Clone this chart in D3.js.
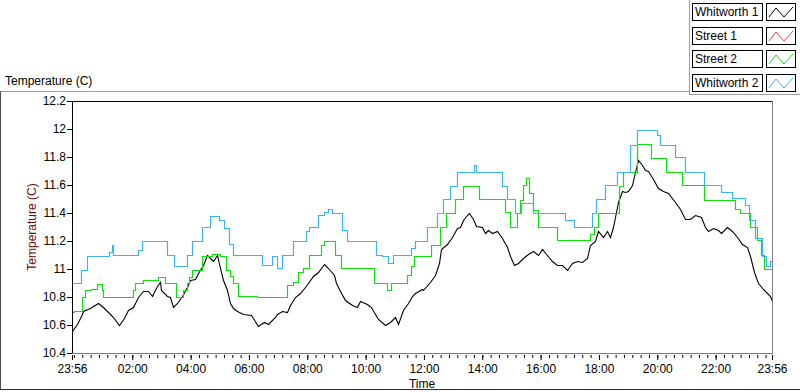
<!DOCTYPE html>
<html>
<head>
<meta charset="utf-8">
<script src="https://cdn.jsdelivr.net/npm/d3@7"></script>
<style>
  body { margin: 0; background: #fff; }
  svg { display: block; font-family: "Liberation Sans", Arial, sans-serif; font-size: 12px; }
</style>
</head>
<body>
<div id="chart"></div>
<script>
// readings per series: [time, °C]; the first "23:56" is the previous day
const whitworth1 = [
  ["23:56",10.56],["00:06",10.61],["00:16",10.68],["00:19",10.70],["00:33",10.72],["00:50",10.755],
  ["01:00",10.73],["01:14",10.68],["01:21",10.66],["01:33",10.60],["01:42",10.65],["01:52",10.71],
  ["02:02",10.73],["02:12",10.80],["02:23",10.84],["02:33",10.845],["02:40",10.81],["02:51",10.88],
  ["02:56",10.91],["03:00",10.85],["03:11",10.81],["03:18",10.80],["03:24",10.73],["03:31",10.755],
  ["03:42",10.81],["03:52",10.87],["03:59",10.92],["04:09",10.93],["04:16",10.97],["04:26",11.03],
  ["04:34",11.10],["04:40",11.08],["04:47",11.06],["04:54",11.10],["05:00",11.005],["05:07",10.92],
  ["05:14",10.85],["05:21",10.755],["05:28",10.72],["05:35",10.70],["05:48",10.68],["06:04",10.67],
  ["06:19",10.59],["06:30",10.62],["06:40",10.61],["06:54",10.66],["06:57",10.68],["07:07",10.70],
  ["07:18",10.69],["07:25",10.74],["07:35",10.80],["07:45",10.83],["07:55",10.87],["08:02",10.90],
  ["08:12",10.95],["08:23",10.98],["08:35",11.036],["08:43",11.005],["08:54",10.96],["09:00",10.90],
  ["09:07",10.84],["09:18",10.78],["09:31",10.74],["09:42",10.73],["09:48",10.77],["10:02",10.75],
  ["10:12",10.73],["10:19",10.68],["10:26",10.64],["10:40",10.60],["10:50",10.62],["11:00",10.66],
  ["11:07",10.61],["11:17",10.71],["11:28",10.755],["11:35",10.81],["11:42",10.83],["11:55",10.855],
  ["11:59",10.85],["12:12",10.91],["12:23",10.96],["12:30",11.04],["12:36",11.14],["12:47",11.18],
  ["12:57",11.23],["13:07",11.29],["13:14",11.30],["13:21",11.35],["13:28",11.386],["13:33",11.40],
  ["13:40",11.36],["13:48",11.31],["13:59",11.30],["14:06",11.255],["14:12",11.28],["14:19",11.255],
  ["14:30",11.27],["14:40",11.22],["14:50",11.16],["14:57",11.09],["15:05",11.03],["15:14",11.04],
  ["15:24",11.08],["15:35",11.11],["15:45",11.13],["15:55",11.10],["16:02",11.14],["16:12",11.11],
  ["16:23",11.06],["16:33",11.03],["16:43",11.03],["16:54",10.99],["17:04",11.04],["17:14",11.06],
  ["17:25",11.05],["17:35",11.08],["17:42",11.17],["17:52",11.20],["17:59",11.27],["18:09",11.23],
  ["18:16",11.27],["18:23",11.23],["18:28",11.30],["18:33",11.37],["18:40",11.48],["18:47",11.56],
  ["18:54",11.55],["19:00",11.56],["19:07",11.60],["19:14",11.695],["19:21",11.78],["19:28",11.74],
  ["19:35",11.71],["19:41",11.70],["19:52",11.64],["20:02",11.58],["20:12",11.56],["20:23",11.54],
  ["20:36",11.48],["20:47",11.43],["20:57",11.36],["21:07",11.36],["21:18",11.386],["21:30",11.37],
  ["21:38",11.30],["21:45",11.27],["21:55",11.29],["22:05",11.28],["22:12",11.255],["22:23",11.30],
  ["22:33",11.27],["22:43",11.23],["22:54",11.18],["23:04",11.16],["23:11",11.09],["23:18",10.98],
  ["23:28",10.90],["23:38",10.86],["23:45",10.83],["23:52",10.81],["23:56",10.77]
];
const street1 = []; // nothing of this series is visible in the plot
const street2 = [
  ["23:56",10.69],["00:00",10.70],["00:16",10.80],["00:23",10.85],["00:36",10.86],["00:47",10.89],
  ["00:57",10.85],["01:00",10.80],["02:02",10.85],["02:06",10.90],["02:23",10.92],["02:53",10.94],
  ["03:07",10.90],["03:30",10.80],["03:45",10.85],["03:52",10.90],["03:57",10.945],["04:02",10.99],
  ["04:23",11.09],["04:43",11.11],["05:00",11.09],["05:13",10.99],["05:21",10.95],["05:28",10.90],
  ["05:38",10.81],["06:16",10.80],["07:18",10.886],["07:31",10.91],["07:41",10.98],["07:52",11.005],
  ["08:03",11.10],["08:28",11.17],["08:35",11.20],["08:56",11.10],["09:09",11.005],["10:18",10.90],
  ["10:45",10.85],["10:52",10.90],["11:26",10.96],["11:33",11.02],["11:40",11.09],["12:14",11.17],
  ["12:32",11.30],["12:45",11.40],["13:04",11.50],["13:20",11.59],["13:54",11.50],["14:47",11.41],
  ["14:56",11.30],["15:12",11.40],["15:18",11.49],["15:24",11.60],["15:30",11.65],["15:37",11.54],
  ["15:45",11.42],["15:55",11.30],["16:34",11.21],["17:42",11.25],["17:50",11.30],["17:59",11.40],
  ["18:41",11.59],["18:50",11.695],["19:18",11.89],["19:48",11.79],["20:17",11.695],["20:50",11.60],
  ["21:37",11.49],["22:40",11.43],["22:50",11.40],["23:11",11.30],["23:25",11.21],["23:33",11.10],
  ["23:40",11.00],["23:56",11.00]
];
const whitworth2 = [
  ["23:56",10.90],["00:14",10.99],["00:26",11.095],["01:13",11.12],["01:18",11.17],["01:21",11.10],
  ["02:12",11.135],["02:21",11.20],["03:11",11.10],["03:26",11.02],["03:52",11.10],["04:02",11.20],
  ["04:23",11.30],["04:40",11.38],["04:59",11.35],["05:09",11.29],["05:18",11.18],["05:28",11.10],
  ["06:26",11.03],["06:47",11.09],["06:57",11.01],["07:07",11.10],["07:31",11.20],["07:57",11.27],
  ["08:03",11.30],["08:23",11.386],["08:35",11.41],["08:43",11.43],["08:51",11.40],["09:11",11.28],
  ["09:21",11.20],["10:21",11.10],["10:33",11.09],["10:47",11.04],["10:57",11.10],["11:33",11.15],
  ["11:42",11.20],["12:06",11.30],["12:26",11.40],["12:40",11.50],["12:54",11.59],["13:09",11.695],
  ["13:43",11.74],["13:48",11.695],["14:40",11.59],["14:50",11.50],["15:07",11.40],["15:19",11.47],
  ["15:44",11.40],["16:50",11.35],["17:09",11.30],["17:45",11.40],["17:54",11.50],["18:13",11.60],
  ["18:37",11.695],["19:04",11.886],["19:18",11.99],["19:59",11.96],["20:06",11.886],["20:36",11.80],
  ["20:57",11.695],["21:37",11.60],["22:12",11.55],["22:33",11.505],["23:00",11.457],["23:09",11.35],
  ["23:21",11.22],["23:35",11.09],["23:43",11.02],["23:52",11.06],["23:56",11.06]
];

const seriesNames = ["Whitworth 1", "Street 1", "Street 2", "Whitworth 2"];
const seriesData = [whitworth1, street1, street2, whitworth2];
const seriesColors = ["#000000", "#ff3c3c", "#10e010", "#3cb4f0"];
const seriesStep = [false, false, true, true];

const xTickLabels = ["23:56","02:00","04:00","06:00","08:00","10:00","12:00","14:00","16:00","18:00","20:00","22:00","23:56"];
const yTicks = [10.4, 10.6, 10.8, 11, 11.2, 11.4, 11.6, 11.8, 12, 12.2];

const width = 800, height = 392;
const plot = {left: 72, right: 772, top: 101, bottom: 353};

// "HH:MM" -> Date; a leading 23:56 belongs to the day before
function parseTime(s, i) {
  const [h, m] = s.split(":").map(Number);
  return new Date(2000, 0, (i === 0 && h === 23) ? 1 : 2, h, m);
}

const svg = d3.select("#chart").append("svg")
  .attr("width", width)
  .attr("height", height);

const x = d3.scaleTime()
  .domain([new Date(2000, 0, 1, 23, 56), new Date(2000, 0, 2, 23, 56)])
  .range([plot.left, plot.right]);

const y = d3.scaleLinear()
  .domain([10.4, 12.2])
  .range([plot.bottom, plot.top]);

// outer frame of the graph
svg.append("line").attr("x1", 0).attr("x2", 689).attr("y1", 91.5).attr("y2", 91.5).attr("stroke", "#a0a0a0");
svg.append("line").attr("x1", 0.5).attr("x2", 0.5).attr("y1", 91).attr("y2", 390).attr("stroke", "#505050");
svg.append("line").attr("x1", 0).attr("x2", 800).attr("y1", 389.5).attr("y2", 389.5).attr("stroke", "#303030");

svg.append("text")
  .attr("x", 5).attr("y", 85)
  .attr("fill", "#000")
  .text("Temperature (C)");

// plot lines, snapped to pixel centres like the original raster
const snap = v => Math.round(v) + 0.5;
const line = d3.line()
  .x(d => snap(x(d.t)))
  .y(d => snap(y(d.v)));

seriesData.forEach((rows, k) => {
  const pts = rows.map((r, i) => ({t: parseTime(r[0], i), v: r[1]}));
  if (!pts.length) return;
  svg.append("path")
    .datum(pts)
    .attr("fill", "none")
    .attr("stroke", seriesColors[k])
    .attr("stroke-width", seriesStep[k] ? 1.2 : 1.1)
    .attr("d", line.curve(seriesStep[k] ? d3.curveStepAfter : d3.curveLinear));
});

// plot border: dark top/left, grey bottom/right
svg.append("line").attr("x1", plot.left).attr("x2", plot.right).attr("y1", plot.top + 0.5).attr("y2", plot.top + 0.5).attr("stroke", "#000");
svg.append("line").attr("x1", plot.left + 0.5).attr("x2", plot.left + 0.5).attr("y1", plot.top).attr("y2", plot.bottom).attr("stroke", "#000");
svg.append("line").attr("x1", plot.left).attr("x2", plot.right + 1).attr("y1", plot.bottom + 0.5).attr("y2", plot.bottom + 0.5).attr("stroke", "#808080");
svg.append("line").attr("x1", plot.right + 0.5).attr("x2", plot.right + 0.5).attr("y1", plot.top).attr("y2", plot.bottom).attr("stroke", "#808080");

// y axis
const yAxis = svg.append("g")
  .attr("transform", `translate(${plot.left},0)`)
  .call(d3.axisLeft(y).tickValues(yTicks).tickSize(5).tickPadding(1)
    .tickFormat(d => String(+d.toFixed(1))));
yAxis.select(".domain").remove();
yAxis.selectAll("text").attr("font-family", "Liberation Sans, Arial, sans-serif").attr("font-size", 12).attr("fill", "#000");

// x axis: labelled ticks plus 7 divisions per 2 hours
const majorTimes = xTickLabels.map(parseTime);
const minorTimes = d3.range(-1, 7 * 12 + 1)
  .map(i => new Date(2000, 0, 2, 0, 0, 0, i * 2 * 3600 * 1000 / 7))
  .filter(d => d >= x.domain()[0] && d <= x.domain()[1]);

const xMinor = svg.append("g")
  .attr("transform", `translate(0,${plot.bottom + 2})`)
  .call(d3.axisBottom(x).tickValues(minorTimes).tickSize(3).tickFormat(""));
xMinor.select(".domain").remove();

const xAxis = svg.append("g")
  .attr("transform", `translate(0,${plot.bottom + 2})`)
  .call(d3.axisBottom(x).tickValues(majorTimes).tickSize(5).tickPadding(4)
    .tickFormat(d3.timeFormat("%H:%M")));
xAxis.select(".domain").remove();
xAxis.selectAll("text").attr("font-family", "Liberation Sans, Arial, sans-serif").attr("font-size", 12).attr("fill", "#000");

// axis titles
svg.append("text")
  .attr("transform", `translate(36,${(plot.top + plot.bottom) / 2}) rotate(-90)`)
  .attr("text-anchor", "middle")
  .attr("fill", "#6a0f0f")
  .text("Temperature (C)");

svg.append("text")
  .attr("x", (plot.left + plot.right) / 2)
  .attr("y", 388)
  .attr("text-anchor", "middle")
  .attr("fill", "#000")
  .text("Time");

// legend
svg.append("line").attr("x1", 689.5).attr("x2", 689.5).attr("y1", 0).attr("y2", 95).attr("stroke", "#a0a0a0");
svg.append("line").attr("x1", 689).attr("x2", 800).attr("y1", 94.5).attr("y2", 94.5).attr("stroke", "#a0a0a0");

const legend = svg.append("g");
seriesNames.forEach((name, k) => {
  const top = 3 + k * 23.7;
  const g = legend.append("g").attr("transform", `translate(0,${Math.round(top)})`);
  g.append("rect").attr("x", 692.5).attr("y", 0.5).attr("width", 70).attr("height", 17)
    .attr("fill", "#fff").attr("stroke", "#000");
  g.append("text").attr("x", 695).attr("y", 13).attr("fill", "#000").text(name);
  g.append("rect").attr("x", 766.5).attr("y", 0.5).attr("width", 29).attr("height", 17)
    .attr("fill", "#fff").attr("stroke", "#000");
  g.append("path")
    .attr("d", "M769,14 L776,5 L784,14 L793,4")
    .attr("fill", "none")
    .attr("stroke", seriesColors[k])
    .attr("stroke-width", 1);
});
</script>
</body>
</html>
